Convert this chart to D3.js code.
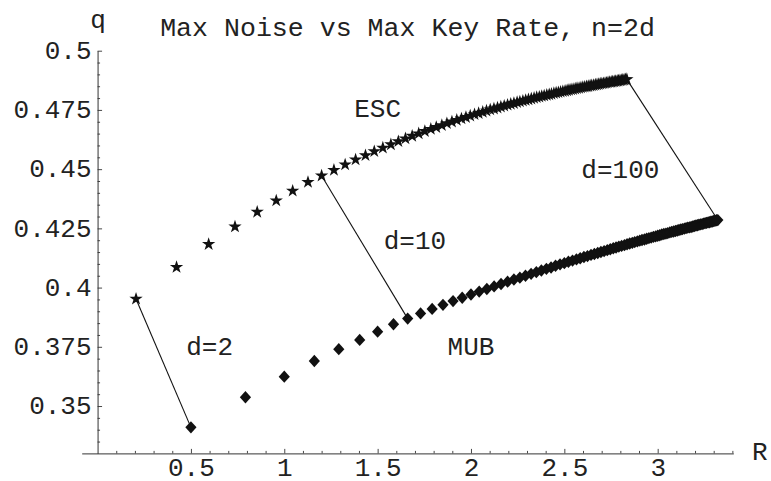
<!DOCTYPE html>
<html>
<head>
<meta charset="utf-8">
<script src="https://cdn.jsdelivr.net/npm/d3@7"></script>
<style>
  body { margin: 0; background: #fff; }
  text { font-family: "Liberation Mono", "DejaVu Sans Mono", monospace; font-size: 26px; fill: #222; }
</style>
</head>
<body>
<div id="chart"></div>
<script>
// dimensions d = 2..100, one point per d for each scheme
const dims = d3.range(2, 101);

const escR = [0.206,0.423,0.595,0.736,0.855,0.957,1.045,1.127,1.200,
  1.266,1.326,1.382,1.435,1.482,1.528,1.571,1.611,1.649,1.685,
  1.720,1.753,1.785,1.814,1.844,1.871,1.898,1.924,1.949,1.973,
  1.996,2.019,2.041,2.063,2.083,2.103,2.123,2.142,2.160,2.178,
  2.196,2.213,2.230,2.247,2.262,2.278,2.293,2.308,2.323,2.338,
  2.352,2.366,2.379,2.392,2.406,2.419,2.431,2.444,2.456,2.468,
  2.480,2.492,2.504,2.515,2.525,2.536,2.547,2.558,2.568,2.579,
  2.589,2.599,2.609,2.619,2.628,2.638,2.647,2.657,2.666,2.675,
  2.684,2.692,2.701,2.709,2.718,2.726,2.734,2.743,2.751,2.759,
  2.767,2.775,2.783,2.790,2.798,2.805,2.813,2.820,2.828,2.835];

const escQ = [0.3952,0.4086,0.4183,0.4257,0.4319,0.4367,0.4408,0.4445,0.4472,
  0.4496,0.4519,0.4540,0.4558,0.4575,0.4590,0.4604,0.4617,0.4629,0.4640,
  0.4650,0.4660,0.4669,0.4677,0.4685,0.4693,0.4700,0.4707,0.4713,0.4719,
  0.4725,0.4731,0.4736,0.4741,0.4746,0.4751,0.4755,0.4759,0.4763,0.4767,
  0.4771,0.4775,0.4778,0.4782,0.4785,0.4788,0.4791,0.4794,0.4797,0.4800,
  0.4803,0.4805,0.4808,0.4810,0.4813,0.4815,0.4817,0.4820,0.4822,0.4824,
  0.4826,0.4828,0.4830,0.4832,0.4834,0.4836,0.4837,0.4839,0.4841,0.4842,
  0.4844,0.4846,0.4847,0.4849,0.4850,0.4852,0.4853,0.4854,0.4856,0.4857,
  0.4858,0.4860,0.4861,0.4862,0.4863,0.4864,0.4866,0.4867,0.4868,0.4869,
  0.4870,0.4871,0.4872,0.4873,0.4874,0.4875,0.4876,0.4877,0.4878,0.4879];

const mubR = [0.500,0.792,1.000,1.161,1.292,1.404,1.500,1.585,1.661,
  1.730,1.792,1.850,1.904,1.953,2.000,2.044,2.085,2.124,2.161,
  2.196,2.230,2.262,2.292,2.322,2.350,2.377,2.404,2.429,2.453,
  2.477,2.500,2.522,2.544,2.565,2.585,2.605,2.624,2.643,2.661,
  2.679,2.696,2.713,2.730,2.746,2.762,2.777,2.792,2.807,2.822,
  2.836,2.850,2.864,2.877,2.891,2.904,2.916,2.929,2.941,2.953,
  2.965,2.977,2.989,3.000,3.011,3.022,3.033,3.044,3.054,3.065,
  3.075,3.085,3.095,3.105,3.114,3.124,3.133,3.143,3.152,3.161,
  3.170,3.179,3.188,3.196,3.205,3.213,3.221,3.230,3.238,3.246,
  3.254,3.262,3.270,3.277,3.285,3.292,3.300,3.307,3.315,3.322];

const mubQ = [0.3410,0.3537,0.3624,0.3690,0.3740,0.3779,0.3814,0.3845,0.3869,
  0.3891,0.3910,0.3927,0.3943,0.3957,0.3971,0.3983,0.3994,0.4005,0.4015,
  0.4025,0.4034,0.4042,0.4050,0.4058,0.4065,0.4072,0.4079,0.4085,0.4092,
  0.4098,0.4103,0.4109,0.4114,0.4119,0.4124,0.4129,0.4133,0.4138,0.4142,
  0.4146,0.4150,0.4154,0.4158,0.4162,0.4166,0.4169,0.4173,0.4176,0.4179,
  0.4183,0.4186,0.4189,0.4192,0.4195,0.4198,0.4201,0.4203,0.4206,0.4209,
  0.4211,0.4214,0.4216,0.4219,0.4221,0.4224,0.4226,0.4228,0.4230,0.4233,
  0.4235,0.4237,0.4239,0.4241,0.4243,0.4245,0.4247,0.4249,0.4251,0.4253,
  0.4254,0.4256,0.4258,0.4260,0.4262,0.4263,0.4265,0.4267,0.4268,0.4270,
  0.4272,0.4273,0.4275,0.4276,0.4278,0.4279,0.4281,0.4282,0.4284,0.4285];

// d values joined by a segment
const linkDims = [2, 10, 100];

const xTicks = [0.5, 1, 1.5, 2, 2.5, 3];
const yTicks = [0.35, 0.375, 0.4, 0.425, 0.45, 0.475, 0.5];

const title = "Max Noise vs Max Key Rate, n=2d";
const notes = [
  { text: "ESC", R: 1.5, q: 0.4757 },
  { text: "d=100", R: 2.8, q: 0.45 },
  { text: "d=10", R: 1.7, q: 0.42 },
  { text: "d=2", R: 0.6, q: 0.375 },
  { text: "MUB", R: 2.0, q: 0.375 }
];

const width = 771, height = 481;

const x = d3.scaleLinear().domain([-0.085, 3.405]).range([81.7, 733.3]);
const y = d3.scaleLinear().domain([0.33, 0.5]).range([453.4, 50.7]);

const svg = d3.select("#chart").append("svg")
  .attr("width", width)
  .attr("height", height);

// axes
const xMinor = d3.range(1, 35).map(i => i / 10).filter(v => Math.round(v * 10) % 5 !== 0);
const yMinor = d3.range(67, 100).map(i => i / 200).filter(v => Math.round(v * 200) % 5 !== 0);

const gx = svg.append("g").attr("transform", `translate(0,${y(0.33)})`);
gx.call(d3.axisBottom(x).tickValues(xMinor).tickSize(-2.5).tickSizeOuter(0).tickFormat(""));
gx.append("g").call(d3.axisBottom(x).tickValues(xTicks).tickSize(-4.5).tickSizeOuter(0)
  .tickPadding(22.5).tickFormat(d => String(d)))
  .call(g => g.select(".domain").remove());

const gy = svg.append("g").attr("transform", `translate(${x(0)},0)`);
gy.call(d3.axisLeft(y).tickValues(yMinor).tickSize(-2.5).tickSizeOuter(0).tickFormat(""));
gy.append("g").call(d3.axisLeft(y).tickValues(yTicks).tickSize(-4.5).tickSizeOuter(0)
  .tickPadding(6).tickFormat(d => String(d)))
  .call(g => g.select(".domain").remove());

svg.selectAll(".domain").attr("stroke", "#333").attr("stroke-width", 1);
svg.selectAll(".tick line").attr("stroke", "#333").attr("stroke-width", 0.9);
svg.selectAll(".tick text")
  .attr("fill", "#222")
  .style("font-family", '"Liberation Mono", monospace')
  .style("font-size", "26px");
gx.selectAll(".tick text").attr("dy", "0em");
gy.selectAll(".tick text").attr("dy", "0.3em");

// axis names and title
svg.append("text").attr("x", 98).attr("y", 28).attr("text-anchor", "middle").text("q");
svg.append("text").attr("x", 752).attr("y", 460).text("R");
svg.append("text").attr("x", 407.5).attr("y", 36).attr("text-anchor", "middle")
  .style("font-size", "26.6px").text(title);

// connecting segments
svg.append("g").selectAll("line")
  .data(linkDims)
  .join("line")
  .attr("x1", d => x(escR[d - 2]))
  .attr("y1", d => y(escQ[d - 2]))
  .attr("x2", d => x(mubR[d - 2]))
  .attr("y2", d => y(mubQ[d - 2]))
  .attr("stroke", "#111")
  .attr("stroke-width", 1.1);

// markers
const star = d3.symbol(d3.symbolStar, 55);
const diamondType = {
  draw(ctx, size) {
    const w = Math.sqrt(size) * 0.68, h = Math.sqrt(size) * 0.75;
    ctx.moveTo(0, -h); ctx.lineTo(w, 0); ctx.lineTo(0, h); ctx.lineTo(-w, 0); ctx.closePath();
  }
};
const diamond = d3.symbol(diamondType, 68);

svg.append("g").selectAll("path")
  .data(dims)
  .join("path")
  .attr("d", star)
  .attr("transform", d => `translate(${x(escR[d - 2])},${y(escQ[d - 2])})`)
  .attr("fill", "#111");

svg.append("g").selectAll("path")
  .data(dims)
  .join("path")
  .attr("d", diamond)
  .attr("transform", d => `translate(${x(mubR[d - 2])},${y(mubQ[d - 2])})`)
  .attr("fill", "#111");

// labels
svg.append("g").selectAll("text")
  .data(notes)
  .join("text")
  .attr("x", d => x(d.R))
  .attr("y", d => y(d.q) + 8.5)
  .attr("text-anchor", "middle")
  .text(d => d.text);
</script>
</body>
</html>
